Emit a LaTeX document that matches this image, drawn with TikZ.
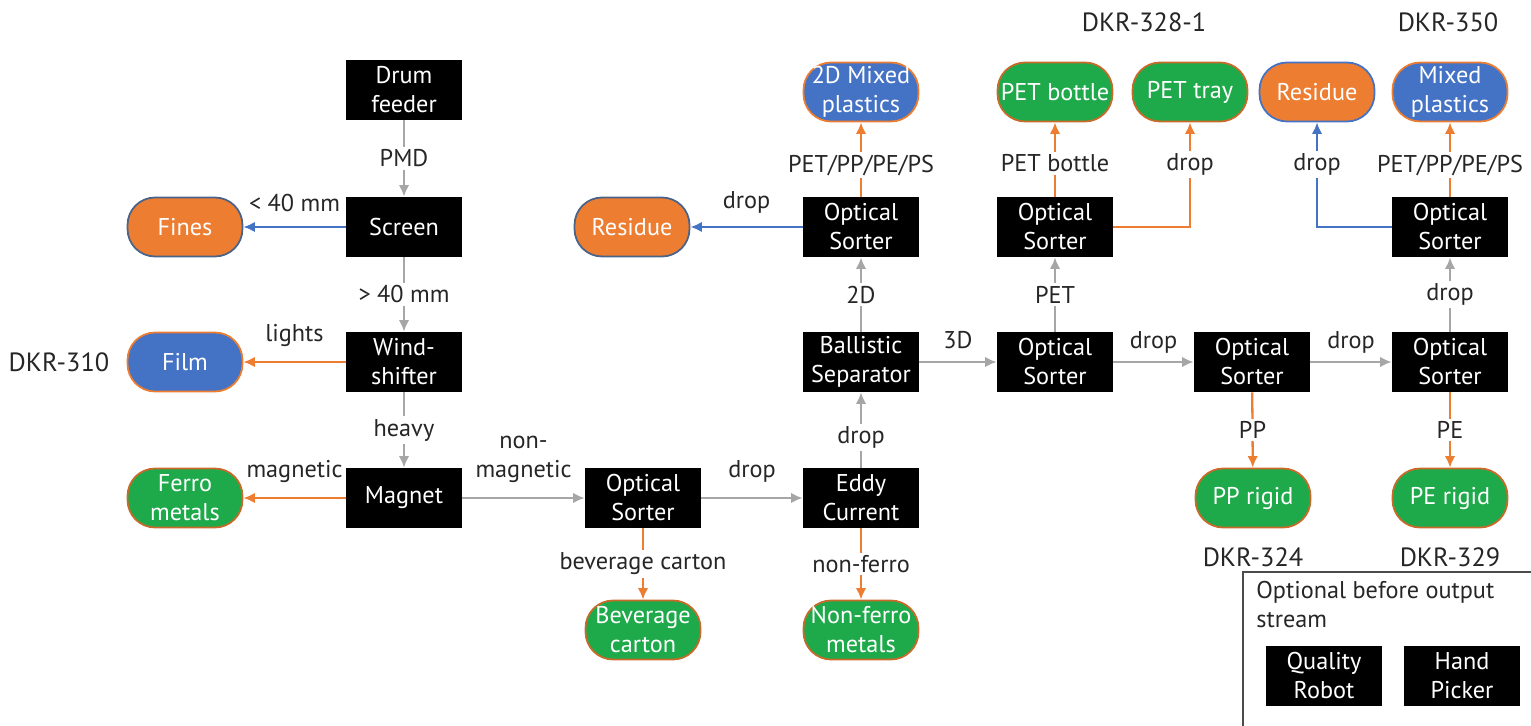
\documentclass[tikz,border=0pt]{standalone}
\usepackage{fontspec}
\setmainfont{PT Sans}
\usetikzlibrary{arrows.meta,positioning}

\definecolor{flowgray}{HTML}{A6A6A6}
\definecolor{outorange}{HTML}{ED7D31}
\definecolor{outblue}{HTML}{4472C4}
\definecolor{outgreen}{HTML}{1EAA4A}
\definecolor{rimblue}{HTML}{4A6389}

\begin{document}
\begin{tikzpicture}[x=0.02cm,y=-0.02cm,>={Latex[length=2.3mm,width=2.1mm]},
    every node/.style={font=\fontsize{13.8}{16.5}\selectfont},
    unit/.style={fill=black,text=white,minimum width=2.32cm,minimum height=1.2cm,
                 align=center,inner sep=1pt},
    outlet/.style={rounded corners=0.55cm,line width=1pt,text=white,minimum width=2.3cm,
                minimum height=1.18cm,align=center,inner sep=1pt},
    green outlet/.style={outlet,fill=outgreen,draw=outorange!85!black},
    orange outlet/.style={outlet,fill=outorange,draw=rimblue},
    blue outlet/.style={outlet,fill=outblue,draw=outorange},
    flow/.style={->,draw=flowgray,line width=1.3pt},
    orange flow/.style={->,draw=outorange,line width=1.3pt},
    blue flow/.style={->,draw=outblue,line width=1.3pt},
    tag/.style={fill=white,inner sep=1.5pt,text=black!85},
    note/.style={above=7pt,inner sep=1pt,text=black!85,align=center},
    dkr/.style={font=\fontsize{15}{18}\selectfont,text=black!85}]

  \useasboundingbox (0,0) rectangle (1531,726);

  %Process units%
  \node[unit] (drum) at (404,90) {Drum\\feeder};
  \node[unit] (screen) at (404,227) {Screen};
  \node[unit] (wind) at (404,362) {Wind-\\shifter};
  \node[unit] (magnet) at (404,498) {Magnet};
  \node[unit] (carton sorter) at (643,498) {Optical\\Sorter};
  \node[unit] (eddy) at (861,498) {Eddy\\Current};
  \node[unit] (ballistic) at (861,362) {Ballistic\\Separator};
  \node[unit] (flat sorter) at (861,227) {Optical\\Sorter};
  \node[unit] (rigid sorter) at (1055,362) {Optical\\Sorter};
  \node[unit] (pet sorter) at (1055,227) {Optical\\Sorter};
  \node[unit] (pp sorter) at (1252,362) {Optical\\Sorter};
  \node[unit] (pe sorter) at (1450,362) {Optical\\Sorter};
  \node[unit] (mix sorter) at (1450,227) {Optical\\Sorter};

  %Output streams%
  \node[orange outlet] (fines) at (185,227) {Fines};
  \node[blue outlet] (film) at (185,362) {Film};
  \node[green outlet] (ferro) at (185,498) {Ferro\\metals};
  \node[green outlet] (carton) at (643,630) {Beverage\\carton};
  \node[green outlet] (nonferro) at (861,630) {Non-ferro\\metals};
  \node[orange outlet] (residue flat) at (632,227) {Residue};
  \node[blue outlet] (mixed flat) at (861,92) {2D Mixed\\plastics};
  \node[green outlet] (bottle) at (1055,92) {PET bottle};
  \node[green outlet] (tray) at (1190,92) {PET tray};
  \node[orange outlet,draw=outblue] (residue) at (1317,92) {Residue};
  \node[blue outlet] (mixed) at (1450,92) {Mixed\\plastics};
  \node[green outlet] (pp rigid) at (1253,498) {PP rigid};
  \node[green outlet] (pe rigid) at (1450,498) {PE rigid};

  %Product codes%
  \node[dkr] (dkr310) at (59,362) {DKR-310};
  \node[dkr] (dkr328) at (1144,22) {DKR-328-1};
  \node[dkr] (dkr350) at (1448,22) {DKR-350};
  \node[dkr] (dkr324) at (1253,557) {DKR-324};
  \node[dkr] (dkr329) at (1450,557) {DKR-329};

  \path
    (drum) edge[flow] node[tag] {PMD} (screen)
    (screen) edge[flow] node[tag] {> 40 mm} (wind)
             edge[blue flow] node[note] {< 40 mm} (fines)
    (wind) edge[flow] node[tag] {heavy} (magnet)
           edge[orange flow] node[note] {lights} (film)
    (magnet) edge[orange flow] node[note] {magnetic} (ferro)
             edge[flow] node[note] {non-\\magnetic} (carton sorter)
    (carton sorter) edge[flow] node[note] {drop} (eddy)
                    edge[orange flow] node[tag] {beverage carton} (carton)
    (eddy) edge[orange flow] node[tag] {non-ferro} (nonferro)
           edge[flow] node[tag,pos=0.4] {drop} (ballistic)
    (ballistic) edge[flow] node[tag] {2D} (flat sorter)
                edge[flow] node[note,above=6pt] {3D} (rigid sorter)
    (flat sorter) edge[orange flow] node[tag,pos=0.42] {PET/PP/PE/PS} (mixed flat)
                  edge[blue flow] node[note,above=6pt] {drop} (residue flat)
    (rigid sorter) edge[flow] node[tag] {PET} (pet sorter)
                   edge[flow] node[note,above=3pt] {drop} (pp sorter)
    (pet sorter) edge[orange flow] node[tag,pos=0.45] {PET bottle} (bottle)
    (pp sorter) edge[flow] node[note,above=3pt] {drop} (pe sorter)
                edge[orange flow] node[tag] {PP} (pp rigid)
    (pe sorter) edge[orange flow] node[tag] {PE} (pe rigid)
                edge[flow] node[tag] {drop} (mix sorter)
    (mix sorter) edge[orange flow] node[tag,pos=0.42] {PET/PP/PE/PS} (mixed);

  \draw[orange flow] (pet sorter) -| node[tag,pos=0.8] {drop} (tray);
  \draw[blue flow] (mix sorter) -| node[tag,pos=0.8] {drop} (residue);

  %Optional units%
  \draw[draw=black!70,line width=1.2pt] (1243,572) rectangle (1545,740);
  \node[anchor=north west,align=left,inner sep=0pt,text=black!85] (optional)
    at (1256,581) {Optional before output\\stream};
  \node[unit] (robot) at (1324,676) {Quality\\Robot};
  \node[unit] (picker) at (1462,676) {Hand\\Picker};
\end{tikzpicture}
\end{document}
